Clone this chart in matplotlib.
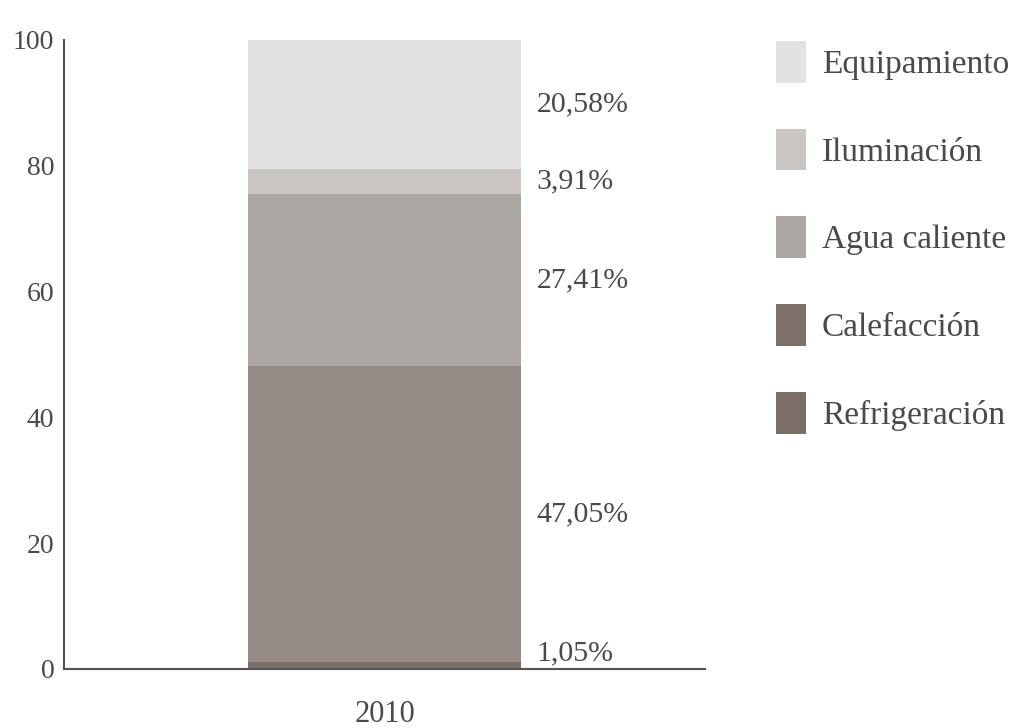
import matplotlib
matplotlib.use('Agg')
import matplotlib.pyplot as plt
from matplotlib.patches import Patch

# Data
YEARS = ['2010']
CATEGORIES = ['Refrigeración', 'Calefacción', 'Agua caliente', 'Iluminación', 'Equipamiento']
VALUES = [1.05, 47.05, 27.41, 3.91, 20.58]
BAR_COLORS = ['#7a6e69', '#958a85', '#aca7a3', '#c9c5c2', '#e3e1e2']
LEGEND_COLORS = ['#7b6d68', '#7d706b', '#aca7a3', '#c9c5c2', '#e3e1e2']
TEXT_COLOR = '#4a4a4a'

plt.rcParams['font.family'] = ['Liberation Serif', 'DejaVu Serif']

fig = plt.figure(figsize=(10.13, 7.28), dpi=100, facecolor='white')
ax = fig.add_axes([64 / 1013, 1 - 669 / 728, 641 / 1013, 629 / 728])

bottom = 0
for cat, val, col in zip(CATEGORIES, VALUES, BAR_COLORS):
    ax.bar(0, val, width=0.426, bottom=bottom, color=col, linewidth=0)
    label = f'{val:.2f}%'.replace('.', ',')
    if val < 2:
        ax.annotate(label, (0.213, bottom), xytext=(11, 2), textcoords='offset points',
                    va='bottom', ha='left', fontsize=21.5, color=TEXT_COLOR)
    else:
        ax.annotate(label, (0.213, bottom + val / 2), xytext=(11, 0), textcoords='offset points',
                    va='center', ha='left', fontsize=21.5, color=TEXT_COLOR)
    bottom += val

ax.set_xlim(-0.5, 0.5)
ax.set_ylim(0, 100)
ax.set_xticks([0])
ax.set_xticklabels(YEARS)
ax.set_yticks(range(0, 101, 20))
ax.tick_params(axis='both', length=0, labelcolor=TEXT_COLOR)
ax.tick_params(axis='x', pad=22, labelsize=22)
ax.tick_params(axis='y', pad=7, labelsize=20)
ax.set_yticks([100], minor=True)
ax.tick_params(axis='y', which='minor', direction='in', length=12, width=1.5, color='#555555')

for side in ('top', 'right'):
    ax.spines[side].set_visible(False)
for side in ('left', 'bottom'):
    ax.spines[side].set_color('#555555')
    ax.spines[side].set_linewidth(1.5)

handles = [Patch(facecolor=c, edgecolor='none', label=l)
           for c, l in zip(LEGEND_COLORS[::-1], CATEGORIES[::-1])]
fig.legend(handles=handles, loc='upper left', bbox_to_anchor=(776 / 1013, 1 - 41 / 728),
           frameon=False, fontsize=24, labelcolor=TEXT_COLOR, borderpad=0, borderaxespad=0,
           handlelength=0.9, handleheight=1.55, labelspacing=1.38, handletextpad=0.48)

fig.savefig('out.png', dpi=100, facecolor='white')
